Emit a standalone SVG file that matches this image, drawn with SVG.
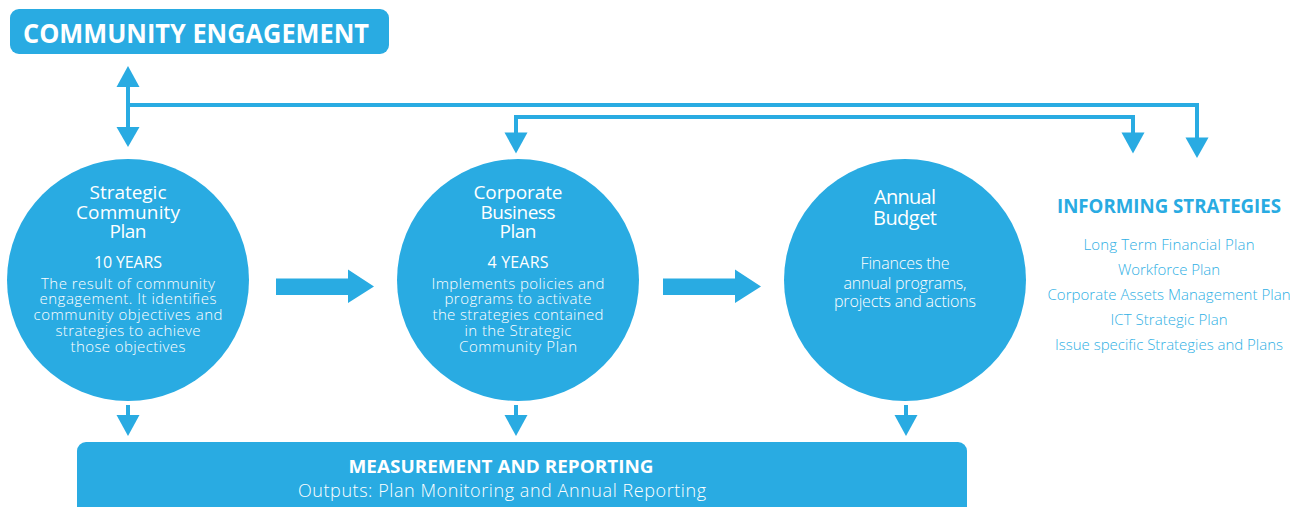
<svg xmlns="http://www.w3.org/2000/svg" width="1302" height="507" viewBox="0 0 1302 507">
<style>
.fill{fill:#29abe2}
.ln{stroke:#29abe2;stroke-width:4;fill:none}
.hd{fill:#29abe2}
text{font-family:"Open Sans","Liberation Sans",sans-serif;text-anchor:middle}
.t{fill:#fff;font-size:19px;font-weight:400}
.y{fill:#fff;font-size:16px;font-weight:400}
.d{fill:#fff;font-size:15px;font-weight:300}
.bt{fill:#fff;font-weight:700}
.it{fill:#2fafe4;font-size:15px;font-weight:300}
</style>
<rect width="1302" height="507" fill="#fff"/>

<g id="community-engagement">
<rect class="fill" x="10" y="9" width="379" height="45" rx="9"/>
<text class="bt" x="23" y="43" style="text-anchor:start;font-size:27px" textLength="346" lengthAdjust="spacingAndGlyphs">COMMUNITY ENGAGEMENT</text>
</g>

<g id="connectors">
<line class="ln" x1="128" y1="86" x2="128" y2="128"/>
<polygon class="hd" points="128,66 139.5,87 116.5,87"/>
<polygon class="hd" points="116.5,127 139.5,127 128,147"/>
<polyline class="ln" points="128,105 1197,105 1197,139"/>
<polygon class="hd" points="1185.5,137.5 1208.5,137.5 1197,158"/>
<polyline class="ln" points="516,135 516,117 1133,117 1133,134"/>
<polygon class="hd" points="504.5,132.5 527.5,132.5 516,153.5"/>
<polygon class="hd" points="1121.5,132.5 1144.5,132.5 1133,153.5"/>
<polygon class="hd" points="276,278.5 348,278.5 348,269.5 374,286.5 348,303 348,295 276,295"/>
<polygon class="hd" points="663,278.5 735,278.5 735,269.5 761,286.5 735,303 735,295 663,295"/>
<line class="ln" x1="128" y1="405" x2="128" y2="417"/>
<polygon class="hd" points="116.5,415 139.5,415 128,436"/>
<line class="ln" x1="516" y1="405" x2="516" y2="417"/>
<polygon class="hd" points="504.5,415 527.5,415 516,436"/>
<line class="ln" x1="906" y1="405" x2="906" y2="417"/>
<polygon class="hd" points="894.5,415 917.5,415 906,436"/>
</g>

<g id="strategic-community-plan">
<circle class="fill" cx="128" cy="280" r="121"/>
<text class="t" x="128" y="199.3" textLength="77">Strategic</text>
<text class="t" x="128" y="218.7" textLength="104">Community</text>
<text class="t" x="128" y="238.3" textLength="37">Plan</text>
<text class="y" x="128" y="268.3" textLength="68">10 YEARS</text>
<text class="d" x="128" y="288.5" textLength="174">The result of community</text>
<text class="d" x="128" y="304.2" textLength="177">engagement. It identifies</text>
<text class="d" x="128" y="320" textLength="189">community objectives and</text>
<text class="d" x="128" y="335.8" textLength="145">strategies to achieve</text>
<text class="d" x="128" y="351.8" textLength="115">those objectives</text>
</g>

<g id="corporate-business-plan">
<circle class="fill" cx="518" cy="280" r="121"/>
<text class="t" x="518" y="199.3" textLength="89">Corporate</text>
<text class="t" x="518" y="218.7" textLength="75">Business</text>
<text class="t" x="518" y="238.3" textLength="37">Plan</text>
<text class="y" x="518" y="268.3" textLength="61">4 YEARS</text>
<text class="d" x="518" y="288.5" textLength="173">Implements policies and</text>
<text class="d" x="518" y="304.2" textLength="147">programs to activate</text>
<text class="d" x="518" y="320" textLength="171">the strategies contained</text>
<text class="d" x="518" y="335.8" textLength="107">in the Strategic</text>
<text class="d" x="518" y="351.8" textLength="118">Community Plan</text>
</g>

<g id="annual-budget">
<circle class="fill" cx="905" cy="280" r="121"/>
<text class="t" x="905" y="204" style="font-size:20px" textLength="62">Annual</text>
<text class="t" x="905" y="225" style="font-size:20px" textLength="64">Budget</text>
<text class="d" x="905" y="269.3" style="font-size:16px" textLength="89">Finances the</text>
<text class="d" x="905" y="288.7" style="font-size:16px" textLength="123">annual programs,</text>
<text class="d" x="905" y="306.7" style="font-size:16px" textLength="142">projects and actions</text>
</g>

<g id="informing-strategies">
<text x="1169" y="213.3" style="fill:#29abe2;font-size:19px;font-weight:700" textLength="224" lengthAdjust="spacingAndGlyphs">INFORMING STRATEGIES</text>
<text class="it" x="1169" y="250" textLength="171">Long Term Financial Plan</text>
<text class="it" x="1169" y="275" textLength="102">Workforce Plan</text>
<text class="it" x="1169" y="300" textLength="243">Corporate Assets Management Plan</text>
<text class="it" x="1169" y="325" textLength="117">ICT Strategic Plan</text>
<text class="it" x="1169" y="350" textLength="228">Issue specific Strategies and Plans</text>
</g>

<g id="measurement-and-reporting">
<rect class="fill" x="77" y="442" width="890" height="80" rx="9"/>
<text class="bt" x="501" y="473.3" style="font-size:18px" textLength="305" lengthAdjust="spacingAndGlyphs">MEASUREMENT AND REPORTING</text>
<text class="d" x="502" y="497" style="font-size:18px" textLength="408">Outputs: Plan Monitoring and Annual Reporting</text>
</g>
</svg>
